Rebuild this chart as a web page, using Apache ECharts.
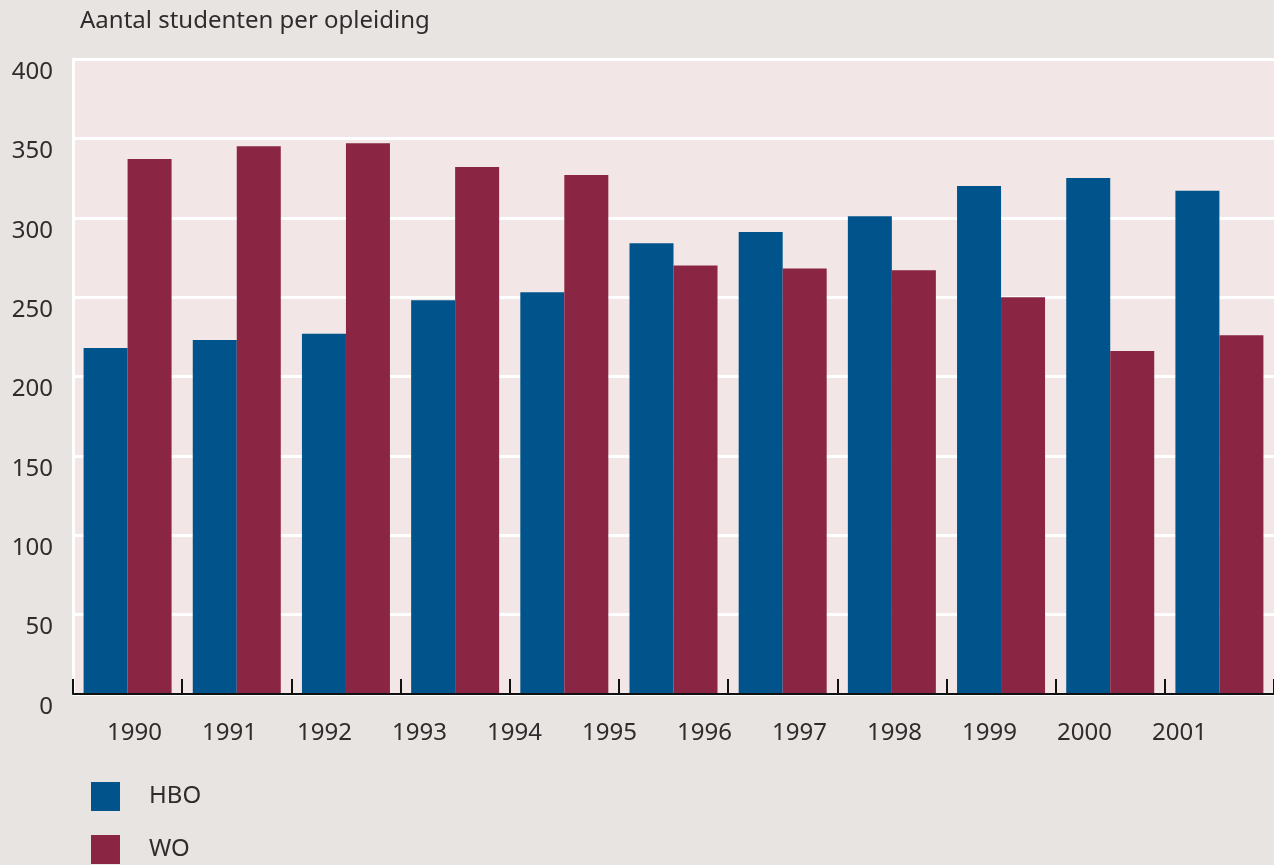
<!DOCTYPE html>
<html>
<head>
<meta charset="utf-8">
<title>Aantal studenten per opleiding</title>
<script src="https://cdn.jsdelivr.net/npm/echarts@6/dist/echarts.min.js"></script>
<style>
  html, body { margin: 0; padding: 0; background: #e8e4e1; }
  #chart { width: 1274px; height: 865px; }
</style>
</head>
<body>
<div id="chart"></div>
<script>
// Bar groups (one pair of bars per group)
const barGroups = ['1990', '1991', '1992', '1993', '1994', '1995', '1996', '1997', '1998', '1999', '2000'];
// Year labels printed under the axis
const yearLabels = ['1990', '1991', '1992', '1993', '1994', '1995', '1996', '1997', '1998', '1999', '2000', '2001'];
const hboValues = [218, 223, 227, 248, 253, 284, 291, 301, 320, 325, 317];
const woValues = [337, 345, 347, 332, 327, 270, 268, 267, 250, 216, 226];

const textColor = '#2e2c2c';
const fontFamily = '"Noto Sans", "DejaVu Sans", sans-serif';

const chart = echarts.init(document.getElementById('chart'), null, { renderer: 'canvas' });

chart.setOption({
  animation: false,
  backgroundColor: '#e8e4e1',
  textStyle: { fontFamily: fontFamily, color: textColor },
  title: {
    text: 'Aantal studenten per opleiding',
    left: 75,
    top: 4,
    textStyle: { fontFamily: fontFamily, fontSize: 24, fontWeight: 'normal', color: textColor }
  },
  legend: {
    orient: 'vertical',
    left: 91,
    top: 782,
    height: 83,
    padding: 0,
    itemWidth: 29,
    itemHeight: 29,
    itemGap: 24,
    icon: 'rect',
    textStyle: { fontFamily: fontFamily, fontSize: 24, color: textColor, padding: [0, 0, 0, 24] },
    data: ['HBO', 'WO']
  },
  grid: [
    {
      left: 73, top: 59, width: 1203, bottom: 171,
      show: true, backgroundColor: '#f2e6e6', borderWidth: 0
    },
    {
      left: 87, top: 59, width: 1140, bottom: 171,
      show: false
    }
  ],
  xAxis: [
    {
      type: 'category',
      gridIndex: 0,
      data: barGroups,
      boundaryGap: true,
      axisLine: { show: true, lineStyle: { color: '#111', width: 2 } },
      axisTick: { show: true, inside: true, length: 15, lineStyle: { color: '#111', width: 2 } },
      axisLabel: { show: false },
      splitLine: { show: false },
      z: 5
    },
    {
      type: 'category',
      gridIndex: 1,
      data: yearLabels,
      axisLine: { show: false },
      axisTick: { show: false },
      axisLabel: { show: true, margin: 27, fontSize: 24, fontFamily: fontFamily, color: textColor }
    }
  ],
  yAxis: [
    {
      type: 'value',
      gridIndex: 0,
      min: 0,
      max: 400,
      interval: 50,
      axisLine: { show: true, lineStyle: { color: '#ffffff', width: 3 } },
      axisTick: { show: false },
      splitLine: { show: true, lineStyle: { color: '#ffffff', width: 3 } },
      axisLabel: {
        margin: 20, fontSize: 24, fontFamily: fontFamily, color: textColor,
        verticalAlign: 'top', lineHeight: 26
      }
    },
    {
      type: 'value',
      gridIndex: 1,
      min: 0,
      max: 400,
      show: false
    }
  ],
  series: [
    {
      name: 'HBO',
      type: 'bar',
      xAxisIndex: 0,
      yAxisIndex: 0,
      data: hboValues,
      barWidth: 44,
      barGap: '0%',
      itemStyle: { color: '#01548b' }
    },
    {
      name: 'WO',
      type: 'bar',
      xAxisIndex: 0,
      yAxisIndex: 0,
      data: woValues,
      barWidth: 44,
      barGap: '0%',
      itemStyle: { color: '#8a2543' }
    }
  ]
});
</script>
</body>
</html>
